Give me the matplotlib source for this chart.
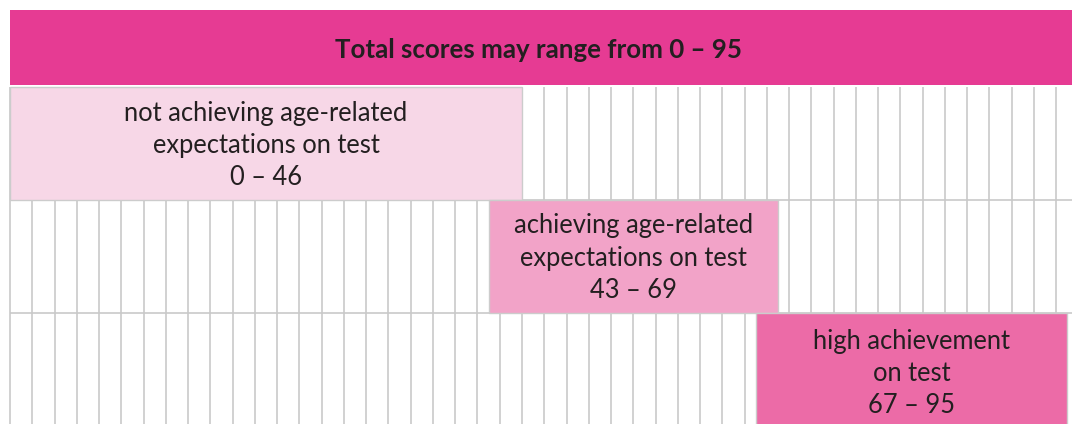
import matplotlib
matplotlib.use("Agg")
import matplotlib.pyplot as plt

# ---- data ----
title = "Total scores may range from 0 – 95"
max_score = 95
band_labels = [
    "not achieving age-related\nexpectations on test\n0 – 46",
    "achieving age-related\nexpectations on test\n43 – 69",
    "high achievement\non test\n67 – 95",
]
band_start = [0, 43, 67]
band_end = [46, 69, 95]
band_colors = ["#F7D7E7", "#F2A3C8", "#EC6BA7"]
header_color = "#E63B93"
grid_step = 2

W, H = 1072, 424
fig = plt.figure(figsize=(W / 100, H / 100), dpi=100)
ax = fig.add_axes([0, 0, 1, 1])

px_per_unit = 11.13
row_px = 113.0
row0_center = 143.5
ax.set_xlim(-10 / px_per_unit, (W - 10) / px_per_unit)
ax.set_ylim((H - row0_center) / row_px, -row0_center / row_px)
ax.axis("off")

font = "Lato"
txt_color = "#231F20"
grid_color = "#C9C9C9"

# header
hdr_top = (10 - row0_center) / row_px
hdr_bot = (85 - row0_center) / row_px
ax.barh([(hdr_top + hdr_bot) / 2], [200], left=[0], height=hdr_bot - hdr_top,
        color=header_color, zorder=3, linewidth=0)
ax.text(max_score / 2, (hdr_top + hdr_bot) / 2 + 0.02, title, ha="center", va="center",
        fontsize=18.6, fontweight="bold", color=txt_color, family=font, zorder=5)

# grid
n = len(band_labels)
xs = list(range(0, max_score, grid_step))
ax.vlines(xs, -0.5, n + 0.5, colors=grid_color, linewidth=1.2, zorder=1)
ax.hlines([i + 0.5 for i in range(n - 1)], 0, 200, colors=grid_color,
          linewidth=1.2, zorder=1)

# bands
rows = list(range(n))
widths = [e - s for s, e in zip(band_start, band_end)]
ax.barh(rows, widths, left=band_start, height=1.0, color=band_colors,
        edgecolor="#CCCCCC", linewidth=1.0, zorder=3)
offsets = [0.02, 0.015, 0.035]
for r, s, e, lab, off in zip(rows, band_start, band_end, band_labels, offsets):
    ax.text((s + e) / 2, r + off, lab, ha="center", va="center", fontsize=18.4,
            color=txt_color, family=font, linespacing=1.36, zorder=5)

fig.savefig("out.png", dpi=100)
